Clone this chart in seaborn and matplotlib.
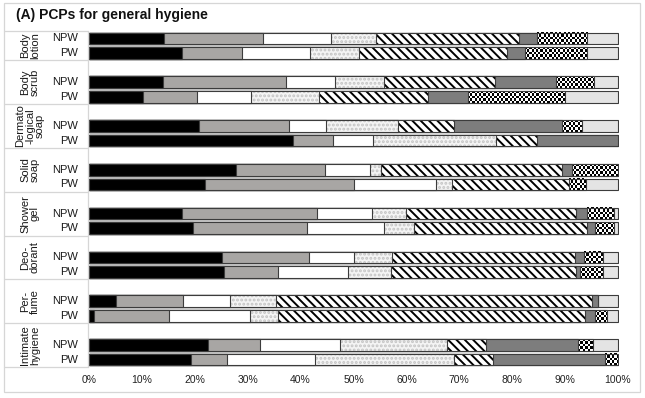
import numpy as np
import pandas as pd
import matplotlib
matplotlib.use("Agg")
import matplotlib.pyplot as plt
import matplotlib.transforms as mtransforms
from matplotlib.patches import Rectangle
import seaborn as sns

# products (row groups) and respondent groups
products = ["Body\nlotion", "Body\nscrub", "Dermato\n-logical\nsoap", "Solid\nsoap",
            "Shower\ngel", "Deo-\ndorant", "Per-\nfume", "Intimate\nhygiene"]
groups = ["NPW", "PW"]

# share (%) of the 8 answer categories, left to right, per product
npw = [
    [14.1, 18.8, 12.9, 8.4, 27.0, 3.5, 9.5, 5.8],
    [13.9, 23.3, 9.3, 9.3, 21.0, 11.4, 7.3, 4.5],
    [20.7, 17.1, 7.0, 13.7, 10.5, 20.5, 3.7, 6.8],
    [27.7, 17.0, 8.5, 2.0, 34.3, 1.9, 8.6, 0.0],
    [17.6, 25.5, 10.4, 6.5, 32.0, 2.2, 5.1, 0.7],
    [25.1, 16.5, 8.4, 7.3, 34.5, 1.8, 3.5, 2.9],
    [5.1, 12.6, 8.9, 8.7, 59.8, 1.1, 0.0, 3.8],
    [22.4, 10.0, 15.0, 20.2, 7.4, 17.5, 2.7, 4.8],
]
pw = [
    [17.5, 11.5, 12.8, 9.3, 28.0, 3.4, 11.7, 5.8],
    [10.2, 10.2, 10.2, 12.9, 20.6, 7.6, 18.2, 10.1],
    [38.5, 7.6, 7.6, 23.2, 7.8, 15.3, 0.0, 0.0],
    [21.9, 28.1, 15.6, 3.1, 22.0, 0.0, 3.2, 6.1],
    [19.6, 21.6, 14.6, 5.7, 32.7, 1.4, 3.7, 0.7],
    [25.5, 10.2, 13.3, 8.1, 34.9, 0.8, 4.3, 2.9],
    [1.0, 14.1, 15.3, 5.3, 58.0, 1.9, 2.3, 2.1],
    [19.2, 6.8, 16.8, 26.2, 7.3, 21.2, 2.5, 0.0],
]
xticks = [0, 10, 20, 30, 40, 50, 60, 70, 80, 90, 100]

# segment looks (fill, hatch, hatch colour); segment 6 gets a checkerboard
fills = ["#000000", "#a8a6a4", "#ffffff", "#f4f4f4", "#ffffff", "#7d7d7d", "#ffffff", "#e4e4e4"]
hatches = [None, None, None, "....", "\\\\\\\\", None, None, None]
hatch_cols = ["#000000", "#a8a6a4", "#ffffff", "#c4c4c4", "#000000", "#7d7d7d", "#ffffff", "#e4e4e4"]
edge = "#3c3c3c"
CHECKER = 6
BAR_W = 0.79

# long table with cumulative widths
rows = []
order = []
for i, prod in enumerate(products):
    if i > 0:
        order.append(f"gap{i}")
    for grp, vals in zip(groups, [npw[i], pw[i]]):
        name = f"{i}-{grp}"
        order.append(name)
        cum = 0
        for k, v in enumerate(vals):
            rows.append({"row": name, "seg": k, "start": cum, "cum": cum + v})
            cum += v
df = pd.DataFrame(rows)

sns.set_theme(style="white")
plt.rcParams["font.family"] = ["Liberation Sans", "DejaVu Sans"]
plt.rcParams["hatch.linewidth"] = 1.4

fig = plt.figure(figsize=(6.45, 3.98), dpi=100)
W, H = 645, 398
ax = fig.add_axes([88 / W, 1 - 367 / H, 531 / W, 336 / H])
px_per_pct = 531 / 100.4

# draw from the last segment to the first so each covers the previous
for k in range(7, -1, -1):
    sub = df[df["seg"] == k]
    sns.barplot(data=sub, x="cum", y="row", order=order, orient="h",
                color=fills[k], saturation=1, width=BAR_W, errorbar=None,
                hatch=hatches[k], edgecolor=hatch_cols[k], linewidth=0, ax=ax)
    if k == CHECKER:
        # small black/white checkerboard inside each segment
        for _, r in sub.iterrows():
            if r["cum"] - r["start"] <= 0:
                continue
            yc = order.index(r["row"])
            nx = max(1, int(round((r["cum"] - r["start"]) * px_per_pct / 2.2)))
            ny = 5
            cells = (np.add.outer(np.arange(ny), np.arange(nx)) % 2).astype(float)
            ax.imshow(cells, cmap="gray", vmin=0, vmax=1, aspect="auto",
                      interpolation="nearest", zorder=1,
                      extent=[r["start"], r["cum"], yc + BAR_W / 2, yc - BAR_W / 2])
    sns.barplot(data=sub, x="cum", y="row", order=order, orient="h",
                color=fills[k], saturation=1, width=BAR_W, errorbar=None,
                facecolor="none", edgecolor=edge, linewidth=0.8, ax=ax)

ax.set_xlim(-0.2, 100.2)
ax.set_ylim(len(order) - 0.5, -0.5)
ax.set_xticks(xticks)
ax.set_xticklabels([f"{t}%" for t in xticks], fontsize=7.5, color="#222222")
ax.set_yticks([])
ax.tick_params(axis="x", length=0, pad=6)
ax.set_xlabel("")
ax.set_ylabel("")
for s in ax.spines.values():
    s.set_visible(False)

trans = mtransforms.blended_transform_factory(ax.transAxes, ax.transData)
grid_col = "#d6d6d6"

# row labels, group labels and the table lines on the left
bounds = [-0.5]
for i, prod in enumerate(products):
    top = -0.5 if i == 0 else 3 * i - 1.5
    bot = 1.5 if i == 0 else 3 * i + 1.5
    bounds.append(bot)
    npw_pos = 0 if i == 0 else 3 * i
    ax.text(-0.019, npw_pos, "NPW", transform=trans, ha="right", va="center",
            fontsize=8, color="#1a1a1a")
    ax.text(-0.019, npw_pos + 1, "PW", transform=trans, ha="right", va="center",
            fontsize=8, color="#1a1a1a")
    ax.text(-0.109, (top + bot) / 2, prod, transform=trans, ha="center", va="center",
            rotation=90, fontsize=8, linespacing=0.95, color="#1a1a1a")

for b in bounds:
    ax.plot([-84 / 531, 0], [b, b], transform=trans, color=grid_col, lw=0.9, clip_on=False)
ax.plot([0, 0], [-0.5, len(order) - 0.5], transform=trans, color=grid_col, lw=0.9, clip_on=False)

fig.patches.append(Rectangle((4 / W, 1 - 392 / H), 636 / W, 389 / H, transform=fig.transFigure,
                             fill=False, edgecolor=grid_col, lw=0.9))

fig.text(16 / W, 1 - 15 / H, "(A) PCPs for general hygiene", fontsize=10, fontweight="bold",
         ha="left", va="center", color="#111111")

fig.savefig("out.png", dpi=100, facecolor="white")
